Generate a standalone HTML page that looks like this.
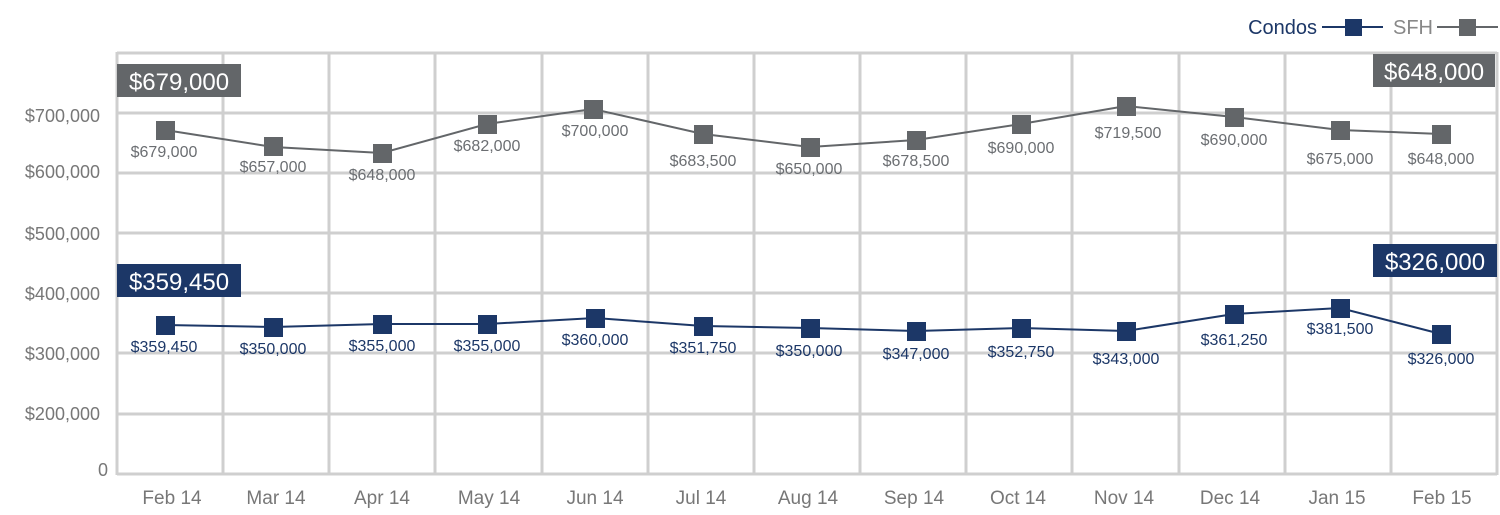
<!DOCTYPE html>
<html><head><style>
body{margin:0;background:#fff;}
svg text{font-family:"Liberation Sans",sans-serif;}
</style></head><body>
<svg width="1500" height="510" viewBox="0 0 1500 510" xmlns="http://www.w3.org/2000/svg">
<g stroke="#cfcfcf" stroke-width="3" fill="none">
<line x1="117" y1="53" x2="1497" y2="53"/><line x1="117" y1="113" x2="1497" y2="113"/>
<line x1="117" y1="173" x2="1497" y2="173"/><line x1="117" y1="233" x2="1497" y2="233"/>
<line x1="117" y1="293" x2="1497" y2="293"/><line x1="117" y1="353" x2="1497" y2="353"/>
<line x1="117" y1="414" x2="1497" y2="414"/><line x1="117" y1="474" x2="1497" y2="474"/>
<line x1="117" y1="52" x2="117" y2="475"/><line x1="223" y1="52" x2="223" y2="475"/>
<line x1="329" y1="52" x2="329" y2="475"/><line x1="435" y1="52" x2="435" y2="475"/>
<line x1="542" y1="52" x2="542" y2="475"/><line x1="648" y1="52" x2="648" y2="475"/>
<line x1="754" y1="52" x2="754" y2="475"/><line x1="860" y1="52" x2="860" y2="475"/>
<line x1="966" y1="52" x2="966" y2="475"/><line x1="1072" y1="52" x2="1072" y2="475"/>
<line x1="1179" y1="52" x2="1179" y2="475"/><line x1="1285" y1="52" x2="1285" y2="475"/>
<line x1="1391" y1="52" x2="1391" y2="475"/><line x1="1497" y1="52" x2="1497" y2="475"/>
</g>
<g fill="#777" font-size="18" text-anchor="end">
<text x="100" y="122">$700,000</text><text x="100" y="178">$600,000</text>
<text x="100" y="240">$500,000</text><text x="100" y="300">$400,000</text>
<text x="100" y="360">$300,000</text><text x="100" y="420">$200,000</text>
<text x="108" y="476">0</text>
</g>
<g fill="#777" font-size="19" text-anchor="middle">
<text x="172" y="504">Feb 14</text><text x="276" y="504">Mar 14</text><text x="382" y="504">Apr 14</text>
<text x="489" y="504">May 14</text><text x="595" y="504">Jun 14</text><text x="701" y="504">Jul 14</text>
<text x="808" y="504">Aug 14</text><text x="914" y="504">Sep 14</text><text x="1018" y="504">Oct 14</text>
<text x="1124" y="504">Nov 14</text><text x="1230" y="504">Dec 14</text><text x="1337" y="504">Jan 15</text>
<text x="1442" y="504">Feb 15</text>
</g>
<polyline fill="none" stroke="#636669" stroke-width="2" points="165,130 273,147 382,153 487,124 593,109 703,134 810,147 916,140 1021,124 1126,106 1234,117 1340,130 1441,134"/>
<g fill="#636669">
<rect x="156" y="121" width="19" height="19"/><rect x="264" y="137" width="19" height="19"/><rect x="373" y="144" width="19" height="19"/>
<rect x="478" y="115" width="19" height="19"/><rect x="584" y="100" width="19" height="19"/><rect x="694" y="125" width="19" height="19"/>
<rect x="801" y="138" width="19" height="19"/><rect x="907" y="131" width="19" height="19"/><rect x="1012" y="115" width="19" height="19"/>
<rect x="1117" y="97" width="19" height="19"/><rect x="1225" y="108" width="19" height="19"/><rect x="1331" y="121" width="19" height="19"/>
<rect x="1432" y="125" width="19" height="19"/>
</g>
<g fill="#6b6e72" font-size="16" text-anchor="middle">
<text x="164" y="157">$679,000</text><text x="273" y="172">$657,000</text><text x="382" y="180">$648,000</text>
<text x="487" y="151">$682,000</text><text x="595" y="136">$700,000</text><text x="703" y="166">$683,500</text>
<text x="809" y="174">$650,000</text><text x="916" y="166">$678,500</text><text x="1021" y="153">$690,000</text>
<text x="1128" y="138">$719,500</text><text x="1234" y="145">$690,000</text><text x="1340" y="164">$675,000</text>
<text x="1441" y="164">$648,000</text>
</g>
<polyline fill="none" stroke="#1c3767" stroke-width="2" points="165,325 273,327 382,324 487,324 595,318 703,326 810,328 916,331 1021,328 1126,331 1234,314 1340,308 1441,334"/>
<g fill="#1c3767">
<rect x="156" y="316" width="19" height="19"/><rect x="264" y="318" width="19" height="19"/><rect x="373" y="315" width="19" height="19"/>
<rect x="478" y="315" width="19" height="19"/><rect x="586" y="309" width="19" height="19"/><rect x="694" y="317" width="19" height="19"/>
<rect x="801" y="319" width="19" height="19"/><rect x="907" y="322" width="19" height="19"/><rect x="1012" y="319" width="19" height="19"/>
<rect x="1117" y="322" width="19" height="19"/><rect x="1225" y="305" width="19" height="19"/><rect x="1331" y="299" width="19" height="19"/>
<rect x="1432" y="325" width="19" height="19"/>
</g>
<g fill="#1c3767" font-size="16" text-anchor="middle">
<text x="164" y="352">$359,450</text><text x="273" y="354">$350,000</text><text x="382" y="351">$355,000</text>
<text x="487" y="351">$355,000</text><text x="595" y="345">$360,000</text><text x="703" y="353">$351,750</text>
<text x="809" y="356">$350,000</text><text x="916" y="359">$347,000</text><text x="1021" y="357">$352,750</text>
<text x="1126" y="364">$343,000</text><text x="1234" y="345">$361,250</text><text x="1340" y="334">$381,500</text>
<text x="1441" y="364">$326,000</text>
</g>
<rect x="117" y="64" width="124" height="33" fill="#636669"/>
<text x="179" y="90" fill="#fff" font-size="24" text-anchor="middle">$679,000</text>
<rect x="1373" y="54" width="122" height="33" fill="#636669"/>
<text x="1434" y="80" fill="#fff" font-size="24" text-anchor="middle">$648,000</text>
<rect x="117" y="264" width="124" height="33" fill="#1c3767"/>
<text x="179" y="290" fill="#fff" font-size="24" text-anchor="middle">$359,450</text>
<rect x="1373" y="244" width="124" height="33" fill="#1c3767"/>
<text x="1435" y="270" fill="#fff" font-size="24" text-anchor="middle">$326,000</text>
<text x="1317" y="34" fill="#1c3767" font-size="20" text-anchor="end">Condos</text>
<line x1="1322" y1="27" x2="1383" y2="27" stroke="#1c3767" stroke-width="2"/>
<rect x="1345" y="19" width="17" height="17" fill="#1c3767"/>
<text x="1393" y="34" fill="#888" font-size="20">SFH</text>
<line x1="1437" y1="27" x2="1498" y2="27" stroke="#636669" stroke-width="2"/>
<rect x="1459" y="19" width="17" height="17" fill="#636669"/>
</svg>
</body></html>
